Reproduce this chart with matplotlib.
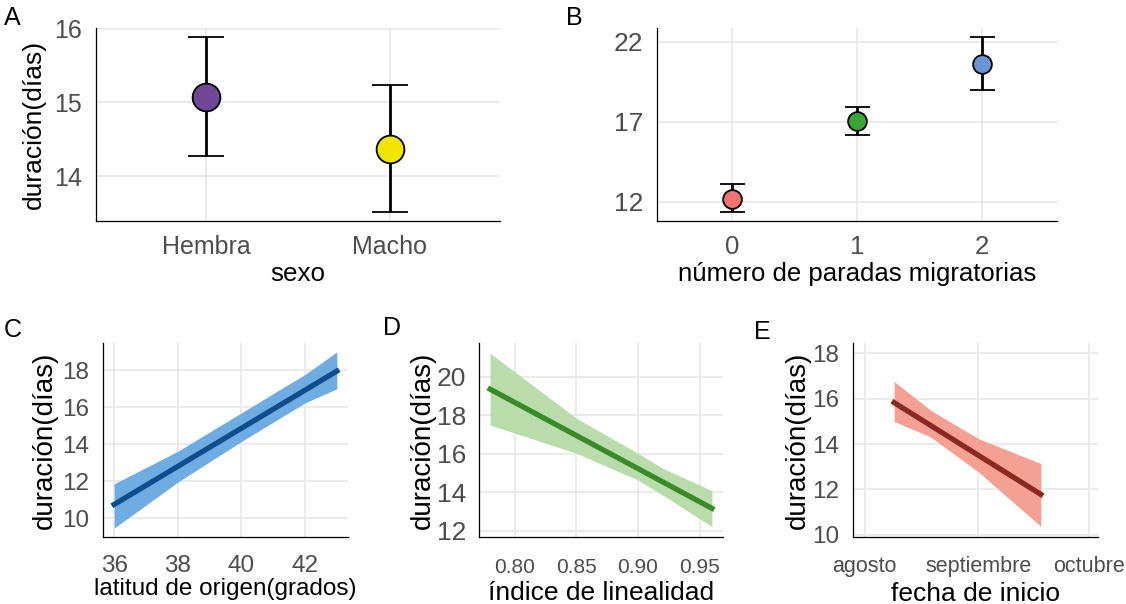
import numpy as np
import matplotlib
matplotlib.use('Agg')
import matplotlib.pyplot as plt

plt.rcParams['font.family'] = ['Liberation Sans', 'DejaVu Sans']

# A: sexo
sexo = ['Hembra', 'Macho']
sexo_media = [15.08, 14.37]
sexo_inf = [14.27, 13.51]
sexo_sup = [15.89, 15.23]
sexo_colores = ['#6E4796', '#F0E400']

# B: paradas migratorias
paradas = [0, 1, 2]
paradas_media = [12.2, 17.06, 20.63]
paradas_inf = [11.36, 16.2, 18.98]
paradas_sup = [13.1, 17.9, 22.3]
paradas_colores = ['#F07470', '#3AA535', '#6A95D5']

# C: latitud
lat_x = [36, 38, 40, 42, 43]
lat_inf = [9.46, 11.95, 14.15, 16.24, 17.0]
lat_sup = [11.86, 13.62, 15.7, 17.78, 19.0]
lat_linea_x = [36, 43]
lat_linea_y = [10.74, 17.96]

# D: linealidad
lin_x = [0.78, 0.85, 0.90, 0.92, 0.96]
lin_inf = [17.49, 16.02, 14.63, 13.85, 12.21]
lin_sup = [21.22, 17.84, 16.02, 15.24, 14.08]
lin_linea_x = [0.78, 0.96]
lin_linea_y = [19.35, 13.16]

# E: fecha de inicio
fecha_x = np.array(['2019-08-09', '2019-08-19', '2019-09-01', '2019-09-18'], dtype='datetime64[D]')
fecha_inf = [15.0, 14.31, 12.77, 10.37]
fecha_sup = [16.76, 15.49, 14.24, 13.14]
fecha_linea_x = np.array(['2019-08-09', '2019-09-18'], dtype='datetime64[D]')
fecha_linea_y = [15.83, 11.78]
meses = np.array(['2019-08-01', '2019-09-01', '2019-10-01'], dtype='datetime64[D]')
meses_nombres = ['agosto', 'septiembre', 'octubre']

W, H = 1126, 604
fig = plt.figure(figsize=(W / 100, H / 100), dpi=100)


def add_ax(l, t, r, b):
    return fig.add_axes([l / W, 1 - b / H, (r - l) / W, (b - t) / H])


def estilo(ax, tsize_x, tsize_y, pad_x=10, pad_y=10):
    for s in ['top', 'right']:
        ax.spines[s].set_visible(False)
    for s in ['left', 'bottom']:
        ax.spines[s].set_color('black')
        ax.spines[s].set_linewidth(0.9)
    ax.grid(True, color='#EBEBEB', linewidth=1.4, zorder=0)
    ax.set_axisbelow(True)
    ax.tick_params(length=0, colors='#4D4D4D')
    ax.tick_params(axis='x', labelsize=tsize_x, pad=pad_x)
    ax.tick_params(axis='y', labelsize=tsize_y, pad=pad_y)


# Panel A
axA = add_ax(96, 28, 500, 221)
xa = np.arange(len(sexo))
for i in range(len(sexo)):
    axA.errorbar(xa[i], sexo_media[i],
                 yerr=[[sexo_media[i] - sexo_inf[i]], [sexo_sup[i] - sexo_media[i]]],
                 fmt='o', color='black', ecolor='black', elinewidth=2.0, capsize=13, capthick=2.0,
                 markersize=20, markerfacecolor=sexo_colores[i], markeredgecolor='black',
                 markeredgewidth=1.3, zorder=3)
axA.set_xticks(xa)
axA.set_xticklabels(sexo)
axA.set_xlim(-0.6, 1.6)
axA.set_ylim(13.39, 16.01)
axA.set_yticks([14, 15, 16])
estilo(axA, 18, 18)
axA.set_xlabel('sexo', fontsize=18.7, labelpad=2)
axA.set_ylabel('duración(días)', fontsize=19, labelpad=6)

# Panel B
axB = add_ax(657, 28, 1057, 221)
for i in range(len(paradas)):
    axB.errorbar(paradas[i], paradas_media[i],
                 yerr=[[paradas_media[i] - paradas_inf[i]], [paradas_sup[i] - paradas_media[i]]],
                 fmt='o', color='black', ecolor='black', elinewidth=2.0, capsize=9, capthick=2.0,
                 markersize=13.5, markerfacecolor=paradas_colores[i], markeredgecolor='black',
                 markeredgewidth=1.3, zorder=3)
axB.set_xticks(paradas)
axB.set_xlim(-0.6, 2.6)
axB.set_ylim(10.81, 22.85)
axB.set_yticks([12, 17, 22])
estilo(axB, 18.5, 19)
axB.set_xlabel('número de paradas migratorias', fontsize=18.5, labelpad=2)

# Panel C
axC = add_ax(103, 343, 348, 537)
axC.fill_between(lat_x, lat_inf, lat_sup, color='#6EACE2', linewidth=0, zorder=2)
axC.plot(lat_linea_x, lat_linea_y, color='#0E4C8C', linewidth=3.8, zorder=3)
axC.set_xlim(35.65, 43.35)
axC.set_ylim(8.98, 19.48)
axC.set_xticks([36, 38, 40, 42])
axC.set_yticks([10, 12, 14, 16, 18])
estilo(axC, 17.5, 17.5, pad_x=13)
axC.set_xlabel('latitud de origen(grados)', fontsize=17.5, labelpad=1)
axC.set_ylabel('duración(días)', fontsize=20, labelpad=3)

# Panel D
axD = add_ax(479, 343, 723, 537)
axD.fill_between(lin_x, lin_inf, lin_sup, color='#B8DCAA', linewidth=0, zorder=2)
axD.plot(lin_linea_x, lin_linea_y, color='#3A8A2A', linewidth=3.8, zorder=3)
axD.set_xlim(0.771, 0.969)
axD.set_ylim(11.67, 21.75)
axD.set_xticks([0.80, 0.85, 0.90, 0.95])
axD.set_xticklabels(['0.80', '0.85', '0.90', '0.95'])
axD.set_yticks([12, 14, 16, 18, 20])
estilo(axD, 15, 19, pad_x=15, pad_y=9)
axD.set_xlabel('índice de linealidad', fontsize=19, labelpad=3)
axD.set_ylabel('duración(días)', fontsize=20, labelpad=1)

# Panel E
axE = add_ax(853, 343, 1098, 537)
axE.fill_between(fecha_x, fecha_inf, fecha_sup, color='#F4A093', linewidth=0, zorder=2)
axE.plot(fecha_linea_x, fecha_linea_y, color='#8A2A1E', linewidth=3.8, zorder=3)
axE.set_xlim(np.datetime64('2019-07-28T19:00'), np.datetime64('2019-10-03T14:00'))
axE.set_ylim(9.9, 18.46)
axE.set_xticks(meses)
axE.set_xticklabels(meses_nombres)
axE.set_yticks([10, 12, 14, 16, 18])
estilo(axE, 15.5, 17.5, pad_x=14, pad_y=10)
axE.set_xlabel('fecha de inicio', fontsize=19, labelpad=3)
axE.set_ylabel('duración(días)', fontsize=20, labelpad=1)

# Panel letters
for letra, px, py in [('A', 4, 6), ('B', 566, 6), ('C', 4, 318), ('D', 383, 316), ('E', 754, 320)]:
    fig.text(px / W, 1 - py / H, letra, fontsize=18, ha='left', va='top', color='black')

fig.savefig('out.png', dpi=100)
